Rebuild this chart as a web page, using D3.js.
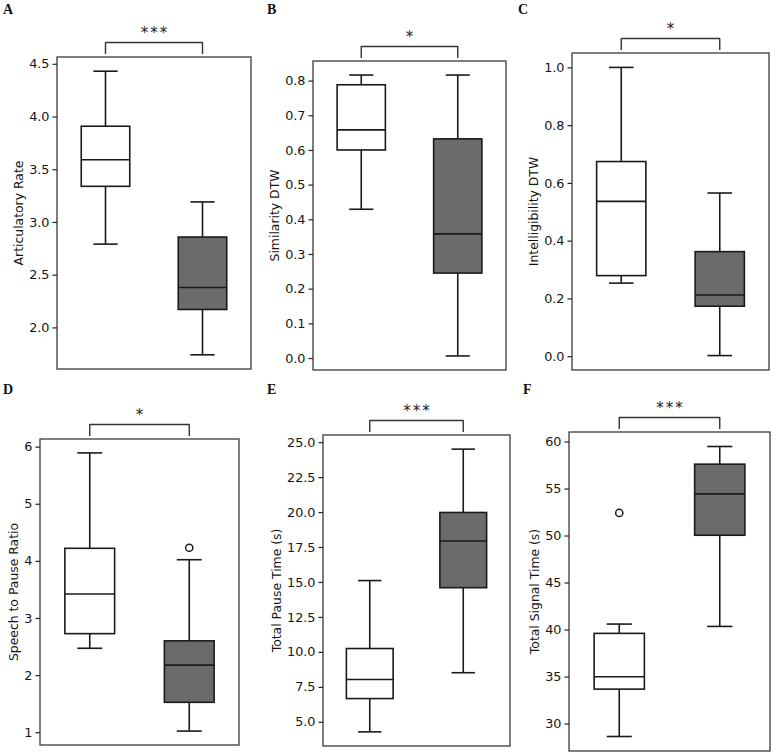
<!DOCTYPE html>
<html><head><meta charset="utf-8">
<script src="https://cdn.jsdelivr.net/npm/d3@7"></script>
<style>body{margin:0;background:#fff}svg{display:block}</style>
</head><body><svg id="c" width="776" height="754"></svg>
<script>
// ---------------- data ----------------
const panelLetters = ["A","B","C","D","E","F"];
const yLabels = ["Articulatory Rate","Similarity DTW","Intelligibility DTW","Speech to Pause Ratio","Total Pause Time (s)","Total Signal Time (s)"];
const significance = ["***","*","*","*","***","***"];
// [lower whisker, Q1, median, Q3, upper whisker]
const whiteBoxes = [
  [2.79, 3.338, 3.59, 3.908, 4.43],
  [0.429, 0.600, 0.658, 0.788, 0.816],
  [0.253, 0.279, 0.536, 0.674, 1.0],
  [2.47, 2.726, 3.42, 4.22, 5.89],
  [4.28, 6.66, 8.03, 10.24, 15.1],
  [28.62, 33.66, 34.97, 39.59, 40.58]
];
const grayBoxes = [
  [1.74, 2.17, 2.378, 2.857, 3.19],
  [0.006, 0.245, 0.358, 0.632, 0.816],
  [0.002, 0.173, 0.212, 0.362, 0.565],
  [1.02, 1.524, 2.175, 2.60, 4.02],
  [8.51, 14.59, 17.93, 19.97, 24.5],
  [40.33, 50.03, 54.43, 57.59, 59.47]
];
const whiteOutliers = [[], [], [], [], [], [52.4]];
const grayOutliers = [[], [], [], [4.23], [], []];
const tickLabels = [
  ["2.0","2.5","3.0","3.5","4.0","4.5"],
  ["0.0","0.1","0.2","0.3","0.4","0.5","0.6","0.7","0.8"],
  ["0.0","0.2","0.4","0.6","0.8","1.0"],
  ["1","2","3","4","5","6"],
  ["5.0","7.5","10.0","12.5","15.0","17.5","20.0","22.5","25.0"],
  ["30","35","40","45","50","55","60"]
];

// ---------------- layout ----------------
const frames = [
  {x0: 57, x1: 251, y0: 57, y1: 369, lx: 3, ly: 14},
  {x0: 313, x1: 506, y0: 61, y1: 370, lx: 267, ly: 14},
  {x0: 572, x1: 769, y0: 53, y1: 370, lx: 518, ly: 14},
  {x0: 40, x1: 239, y0: 439, y1: 745, lx: 3, ly: 394},
  {x0: 323, x1: 510, y0: 435, y1: 746, lx: 267, ly: 394},
  {x0: 569, x1: 770, y0: 432, y1: 751, lx: 523, ly: 394}
];
const fontSans = "'DejaVu Sans', sans-serif";
const svg = d3.select("#c");

panelLetters.forEach((letter, i) => {
  const f = frames[i];
  const g = svg.append("g");
  const allVals = whiteBoxes[i].concat(grayBoxes[i], whiteOutliers[i], grayOutliers[i]);
  const lo = d3.min(allVals), hi = d3.max(allVals), r = hi - lo;
  const y = d3.scaleLinear().domain([lo - 0.05 * r, hi + 0.05 * r]).range([f.y1, f.y0]);
  const x = d3.scaleLinear().domain([0.5, 2.5]).range([f.x0, f.x1]);

  const groups = [
    {pos: 1, s: whiteBoxes[i], out: whiteOutliers[i], fill: "#ffffff"},
    {pos: 2, s: grayBoxes[i], out: grayOutliers[i], fill: "#6b6b6b"}
  ];
  groups.forEach(gr => {
    const [wl, q1, md, q3, wh] = gr.s;
    const st = "#1a1a1a", sw = 1.6;
    g.append("line").attr("x1", x(gr.pos)).attr("x2", x(gr.pos)).attr("y1", y(q3)).attr("y2", y(wh)).attr("stroke", st).attr("stroke-width", sw);
    g.append("line").attr("x1", x(gr.pos)).attr("x2", x(gr.pos)).attr("y1", y(q1)).attr("y2", y(wl)).attr("stroke", st).attr("stroke-width", sw);
    [wl, wh].forEach(v => g.append("line").attr("x1", x(gr.pos - 0.125)).attr("x2", x(gr.pos + 0.125)).attr("y1", y(v)).attr("y2", y(v)).attr("stroke", st).attr("stroke-width", sw));
    g.append("rect").attr("x", x(gr.pos - 0.25)).attr("width", x(gr.pos + 0.25) - x(gr.pos - 0.25))
      .attr("y", y(q3)).attr("height", y(q1) - y(q3)).attr("fill", gr.fill).attr("stroke", st).attr("stroke-width", sw);
    g.append("line").attr("x1", x(gr.pos - 0.25)).attr("x2", x(gr.pos + 0.25)).attr("y1", y(md)).attr("y2", y(md)).attr("stroke", st).attr("stroke-width", sw);
    gr.out.forEach(v => g.append("circle").attr("cx", x(gr.pos)).attr("cy", y(v)).attr("r", 3.6).attr("fill", "#fff").attr("stroke", st).attr("stroke-width", 1.5));
  });

  g.append("rect").attr("x", f.x0).attr("y", f.y0).attr("width", f.x1 - f.x0).attr("height", f.y1 - f.y0)
    .attr("fill", "none").attr("stroke", "#3a3a3a").attr("stroke-width", 1.3);

  const vals = tickLabels[i].map(Number);
  const ax = g.append("g").attr("transform", `translate(${f.x0},0)`)
    .call(d3.axisLeft(y).tickValues(vals).tickFormat((d, k) => tickLabels[i][k]).tickSize(4.5).tickPadding(3));
  ax.select(".domain").remove();
  ax.selectAll(".tick line").attr("stroke", "#222").attr("stroke-width", 1.2);
  ax.selectAll(".tick text").attr("fill", "#141414").style("font-family", fontSans).style("font-size", "12.8px");
  const bb = ax.node().getBBox();
  const lblX = f.x0 + bb.x - 6;
  g.append("text").attr("transform", `translate(${lblX},${(f.y0 + f.y1) / 2}) rotate(-90)`)
    .attr("text-anchor", "middle").attr("fill", "#141414")
    .style("font-family", fontSans).style("font-size", "12.4px").text(yLabels[i]);

  const bt = f.y0 - 14.5, bb2 = f.y0 - 3;
  g.append("path").attr("d", `M${x(1)},${bb2}V${bt}H${x(2)}V${bb2}`)
    .attr("fill", "none").attr("stroke", "#333").attr("stroke-width", 1.4).attr("stroke-linejoin", "round");
  g.append("text").attr("x", (x(1) + x(2)) / 2 + 1).attr("y", f.y0 - 19.5)
    .attr("text-anchor", "middle").attr("fill", "#222")
    .style("font-family", fontSans).style("font-size", "15px").style("letter-spacing", "2px")
    .text(significance[i]);

  svg.append("text").attr("x", f.lx).attr("y", f.ly).attr("fill", "#111")
    .style("font-family", "'Liberation Serif', 'Times New Roman', serif").style("font-weight", "bold").style("font-size", "14px")
    .text(letter);
});
</script>
</body></html>
